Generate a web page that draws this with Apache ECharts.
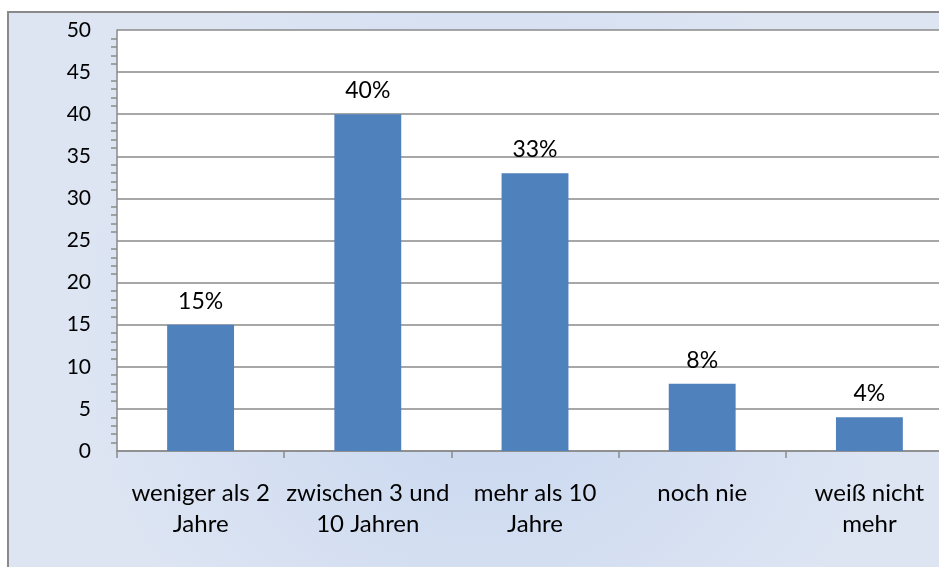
<!DOCTYPE html>
<html>
<head>
<meta charset="utf-8">
<script src="https://cdn.jsdelivr.net/npm/echarts@6/dist/echarts.min.js"></script>
<style>html,body{margin:0;padding:0;background:#fff;}#c{width:939px;height:567px;}</style>
</head>
<body>
<div id="c"></div>
<script>
const categories = ['weniger als 2\nJahre', 'zwischen 3 und\n10 Jahren', 'mehr als 10\nJahre', 'noch nie', 'weiß nicht\nmehr'];
const values = [15, 40, 33, 8, 4];
const valueLabels = ['15%', '40%', '33%', '8%', '4%'];

const chart = echarts.init(document.getElementById('c'));
const font = 'Lato, "Open Sans", sans-serif';
chart.setOption({
  animation: false,
  backgroundColor: '#ffffff',
  graphic: [{
    type: 'rect', z: -10,
    shape: {x: 8, y: 12, width: 960, height: 580},
    style: {
      fill: {type: 'radial', x: 0.5, y: 0.55, r: 0.7,
        colorStops: [{offset: 0, color: '#c6d5ee'}, {offset: 1, color: '#dde5f3'}]},
      stroke: '#8a8a8a', lineWidth: 2
    }
  }],
  grid: {left: 117, top: 30, width: 836, height: 421, show: true, backgroundColor: '#ffffff', borderWidth: 0,
    containLabel: false, outerBoundsMode: 'none'},
  xAxis: {
    type: 'category', data: categories,
    axisLine: {lineStyle: {color: '#8a8a8a', width: 1.5}},
    axisTick: {show: true, alignWithLabel: false, length: 7, lineStyle: {color: '#8a8a8a', width: 1.5}},
    axisLabel: {color: '#000', fontSize: 24, fontFamily: font, lineHeight: 31, margin: 27, interval: 0}
  },
  yAxis: {
    type: 'value', min: 0, max: 50, interval: 5,
    axisLine: {show: true, lineStyle: {color: '#8a8a8a', width: 1.5}},
    axisTick: {show: false},
    minorTick: {show: true, splitNumber: 5, length: 6, lineStyle: {color: '#8a8a8a', width: 1.5}},
    splitLine: {show: true, lineStyle: {color: '#8a8a8a', width: 1.5}},
    axisLabel: {color: '#000', fontSize: 21, fontFamily: font, margin: 26}
  },
  series: [{
    type: 'bar', data: values, barWidth: '40%',
    itemStyle: {color: '#4f81bd'},
    label: {show: true, position: 'top', distance: 12, color: '#000', fontSize: 23, fontFamily: font,
      formatter: p => valueLabels[p.dataIndex]}
  }]
});
</script>
</body>
</html>
